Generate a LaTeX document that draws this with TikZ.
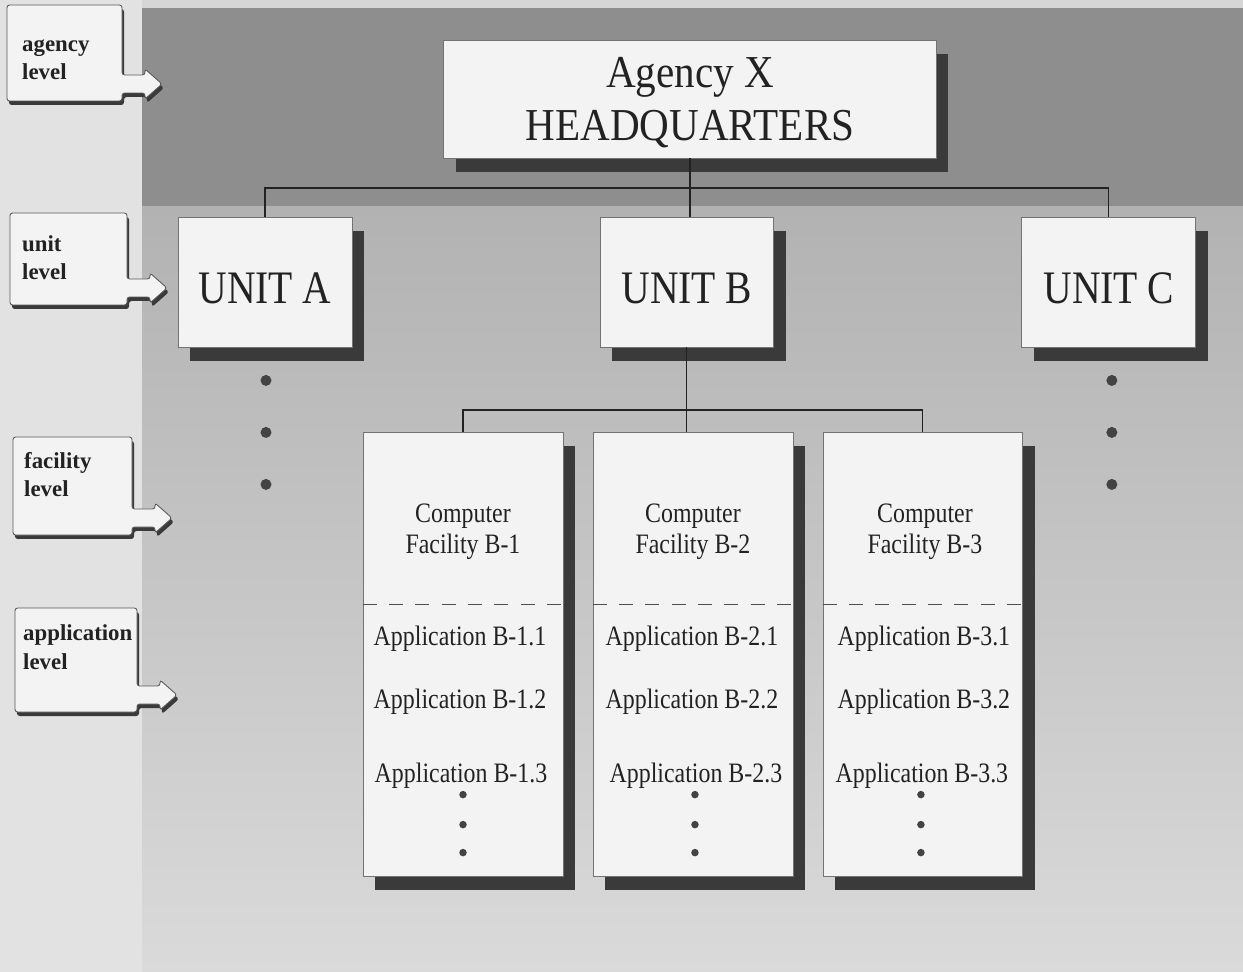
\documentclass[tikz,border=0pt]{standalone}
\usepackage{fontspec}
\setmainfont{Liberation Serif}
\newfontfamily\narrowserif[FakeStretch=0.85]{Liberation Serif}
\newfontfamily\hqserif[FakeStretch=0.9]{Liberation Serif}
\usepackage{tikz}
\usetikzlibrary{positioning}
\usetikzlibrary{shapes,arrows,calc,shadows}

\definecolor{bgleft}{HTML}{E2E2E2}
\definecolor{bgtop}{HTML}{D6D6D6}
\definecolor{bgdark}{HTML}{8E8E8E}
\definecolor{bgmid}{HTML}{B2B2B2}
\definecolor{bglow}{HTML}{DADADA}
\definecolor{boxfill}{HTML}{F3F3F3}
\definecolor{shadowc}{HTML}{3A3A3A}
\definecolor{inkc}{HTML}{222222}

\tikzset{
  block/.style={draw=black!55, line width=0.5pt, fill=boxfill, text=inkc,
    drop shadow={shadow xshift=0.24cm, shadow yshift=-0.28cm, opacity=1, fill=shadowc}},
  hqbox/.style={block, minimum width=9.86cm, minimum height=2.36cm, align=center,
    text depth=0pt, font={\hqserif\fontsize{26}{30}\selectfont}},
  unitbox/.style={block, minimum width=3.48cm, minimum height=2.6cm,
    text height=24pt, text depth=0pt,
    font={\narrowserif\fontsize{26.5}{30}\selectfont}},
  facbox/.style={block, minimum width=4cm, minimum height=8.88cm},
  factitle/.style={align=center, text=inkc, font={\narrowserif\fontsize{16}{17.6}\selectfont}},
  apptext/.style={text=inkc, font={\narrowserif\fontsize{16}{18}\selectfont}},
  unitdot/.style={circle, fill=inkc!85, inner sep=0pt, minimum size=0.22cm},
  appdot/.style={circle, fill=inkc!85, inner sep=0pt, minimum size=0.15cm},
  conn/.style={draw=inkc, line width=0.6pt},
  sepline/.style={draw=inkc!80, line width=0.5pt, dash pattern=on 8pt off 7pt},
  lvlshape/.style={draw=black!65, line width=0.5pt, fill=boxfill, rounded corners=1.5pt,
    drop shadow={shadow xshift=0.04cm, shadow yshift=-0.08cm, opacity=1, fill=shadowc}},
  lvltext/.style={anchor=base west, align=left, text=inkc,
    font={\bfseries\fontsize{13}{16.5}\selectfont}}
}

% label box with an arrow out of its lower right side
\newcommand{\lvlbox}[4]{%
  \draw[lvlshape] (#1,#2) -- (#3,#2) -- (#3,{#4-26}) -- ({#3+23},{#4-26})
    -- ({#3+23},{#4-32}) -- ({#3+40},{#4-17}) -- ({#3+23},{#4-2})
    -- ({#3+23},{#4-8}) -- (#3,{#4-8}) -- (#3,#4) -- (#1,#4) -- cycle;
}

\begin{document}
\begin{tikzpicture}[x=0.02cm, y=-0.02cm, node distance=8.44cm]
    \useasboundingbox (0,0) rectangle (1243,972);

    % Background
    \fill[bgleft] (0,0) rectangle (1243,972);
    \fill[bgtop] (142,0) rectangle (1243,8);
    \fill[bgdark] (142,8) rectangle (1243,207);
    \fill[top color=bgmid, bottom color=bglow] (142,207) rectangle (1243,972);

    % Level labels
    \lvlbox{7}{5}{122}{101}
    \node [lvltext] (lagency) at (16,80) {agency\\level};
    \lvlbox{10}{213}{127}{305}
    \node [lvltext] (lunit) at (16,280) {unit\\level};
    \lvlbox{13}{437}{132}{535}
    \node [lvltext] (lfacility) at (18,497) {facility\\level};
    \lvlbox{15}{608}{137}{712}
    \node [lvltext] (lapplication) at (17,669) {application\\level};

    % Nodes
    \node [hqbox] (hq) at (690,99) {Agency X\\HEADQUARTERS};

    \node [unitbox] (unitA) at (265,282) {UNIT A};
    \node [unitbox, right of=unitA] (unitB) {UNIT B};
    \node [unitbox, right of=unitB] (unitC) {UNIT C};

    \node [facbox] (fac1) at (463,654) {};
    \node [facbox, node distance=4.6cm, right of=fac1] (fac2) {};
    \node [facbox, node distance=4.6cm, right of=fac2] (fac3) {};

    % Dots below units A and C
    \node [unitdot] (da1) at ($(unitA.south)+(1,33)$) {};
    \node [unitdot] (da2) at ($(unitA.south)+(1,85)$) {};
    \node [unitdot] (da3) at ($(unitA.south)+(1,137)$) {};
    \node [unitdot] (dc1) at ($(unitC.south)+(3,33)$) {};
    \node [unitdot] (dc2) at ($(unitC.south)+(3,85)$) {};
    \node [unitdot] (dc3) at ($(unitC.south)+(3,137)$) {};

    % Facility B-1
    \node [factitle] (fac1t) at ($(fac1.north)+(0,100)$) {Computer\\Facility B-1};
    \draw [sepline] ($(fac1.west)+(0,-50)$) -- ($(fac1.east)+(0,-50)$);
    \node [apptext] (app11) at ($(fac1.north)+(-3,207)$) {Application B-1.1};
    \node [apptext] (app12) at ($(fac1.north)+(-3,270)$) {Application B-1.2};
    \node [apptext] (app13) at ($(fac1.north)+(-2,344)$) {Application B-1.3};
    \node [appdot] (d11) at ($(fac1.north)+(0,363)$) {};
    \node [appdot] (d12) at ($(fac1.north)+(0,393)$) {};
    \node [appdot] (d13) at ($(fac1.north)+(0,421)$) {};

    % Facility B-2
    \node [factitle] (fac2t) at ($(fac2.north)+(0,100)$) {Computer\\Facility B-2};
    \draw [sepline] ($(fac2.west)+(0,-50)$) -- ($(fac2.east)+(0,-50)$);
    \node [apptext] (app21) at ($(fac2.north)+(-1,207)$) {Application B-2.1};
    \node [apptext] (app22) at ($(fac2.north)+(-1,270)$) {Application B-2.2};
    \node [apptext] (app23) at ($(fac2.north)+(3,344)$) {Application B-2.3};
    \node [appdot] (d21) at ($(fac2.north)+(2,363)$) {};
    \node [appdot] (d22) at ($(fac2.north)+(2,393)$) {};
    \node [appdot] (d23) at ($(fac2.north)+(2,421)$) {};

    % Facility B-3
    \node [factitle] (fac3t) at ($(fac3.north)+(2,100)$) {Computer\\Facility B-3};
    \draw [sepline] ($(fac3.west)+(0,-50)$) -- ($(fac3.east)+(0,-50)$);
    \node [apptext] (app31) at ($(fac3.north)+(1,207)$) {Application B-3.1};
    \node [apptext] (app32) at ($(fac3.north)+(1,270)$) {Application B-3.2};
    \node [apptext] (app33) at ($(fac3.north)+(-1,344)$) {Application B-3.3};
    \node [appdot] (d31) at ($(fac3.north)+(-2,363)$) {};
    \node [appdot] (d32) at ($(fac3.north)+(-2,393)$) {};
    \node [appdot] (d33) at ($(fac3.north)+(-2,421)$) {};

    % Connectors
    \coordinate (bus1) at (hq.south |- 0,188);
    \coordinate (bus2) at (unitB.south |- 0,410);
    \draw [conn] (hq.south) -- (hq.south |- unitB.north);
    \draw [conn] (unitA.north) |- (bus1) -| (unitC.north);
    \draw [conn] (unitB.south) -- (unitB.south |- fac2.north);
    \draw [conn] (fac1.north) |- (bus2) -| (fac3.north);
\end{tikzpicture}
\end{document}
